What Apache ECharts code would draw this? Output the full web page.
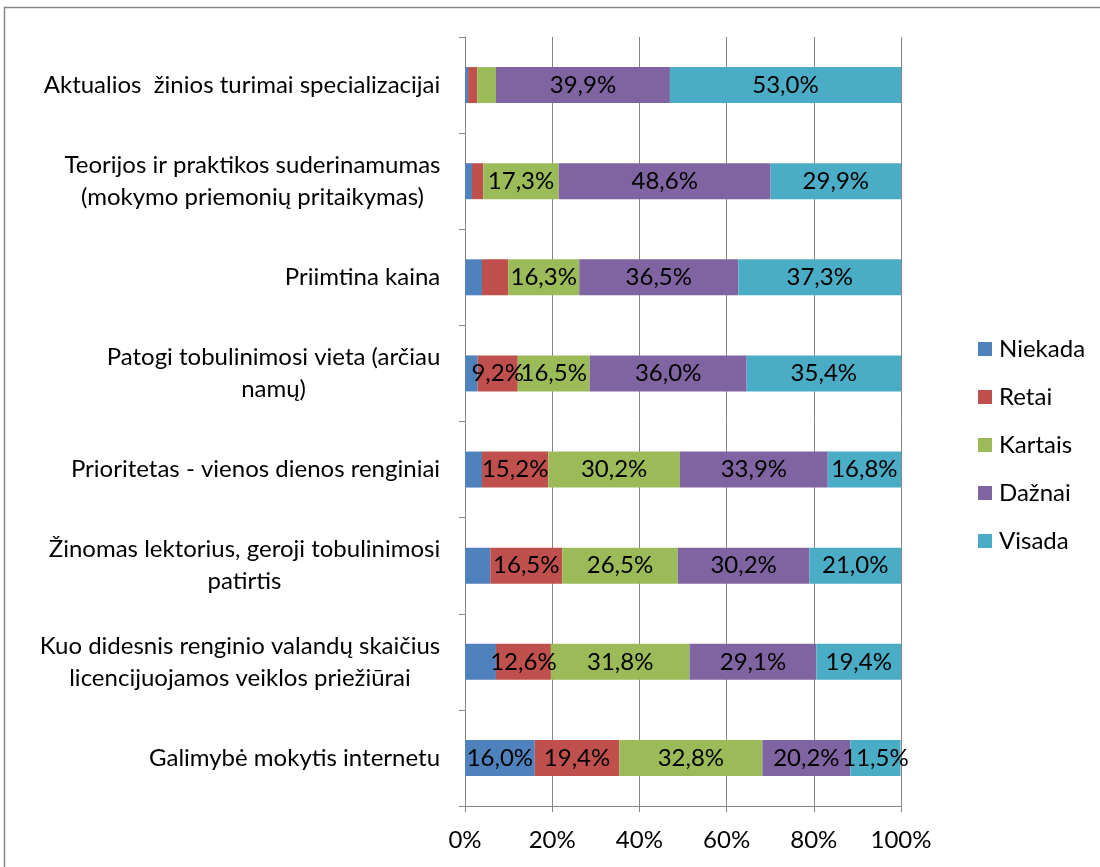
<!DOCTYPE html>
<html>
<head>
<meta charset="utf-8">
<script src="https://cdn.jsdelivr.net/npm/echarts@6/dist/echarts.min.js"></script>
<style>html,body{margin:0;padding:0;background:#fff;}#c{width:1100px;height:867px;}</style>
</head>
<body>
<div id="c"></div>
<script>
const categories = [
  'Aktualios  žinios turimai specializacijai',
  'Teorijos ir praktikos suderinamumas\n(mokymo priemonių pritaikymas)',
  'Priimtina kaina',
  'Patogi tobulinimosi vieta (arčiau\nnamų)',
  'Prioritetas - vienos dienos renginiai',
  'Žinomas lektorius, geroji tobulinimosi\npatirtis',
  'Kuo didesnis renginio valandų skaičius\nlicencijuojamos veiklos priežiūrai',
  'Galimybė mokytis internetu'
];
const seriesNames = ['Niekada', 'Retai', 'Kartais', 'Dažnai', 'Visada'];
const niekada = [0.7, 1.6, 3.9, 2.9, 3.9, 5.8, 7.1, 16.0];
const retai   = [2.1, 2.6, 6.0, 9.2, 15.2, 16.5, 12.6, 19.4];
const kartais = [4.3, 17.3, 16.3, 16.5, 30.2, 26.5, 31.8, 32.8];
const daznai  = [39.9, 48.6, 36.5, 36.0, 33.9, 30.2, 29.1, 20.2];
const visada  = [53.0, 29.9, 37.3, 35.4, 16.8, 21.0, 19.4, 11.5];
const xTicks = [0, 20, 40, 60, 80, 100];

const colors = ['#4F81BD', '#C0504D', '#9BBB59', '#8064A2', '#4BACC6'];
const FONT = 'Lato';
const FS = 24;

const cv = document.createElement('canvas').getContext('2d');
cv.font = FS + 'px ' + FONT;
const rich = {};
categories.forEach((c, i) => {
  const w = Math.max(...c.split('\n').map(l => cv.measureText(l).width));
  rich['l' + i] = { width: Math.ceil(w) + 1, align: 'center', fontSize: FS, fontFamily: FONT, color: '#000', lineHeight: 32 };
});

const allData = [niekada, retai, kartais, daznai, visada];
const fmt = v => v.toFixed(1).replace('.', ',') + '%';

const chart = echarts.init(document.getElementById('c'));
chart.setOption({
  animation: false,
  backgroundColor: '#fff',
  color: colors,
  graphic: [{
    type: 'rect', silent: true,
    shape: { x: 4.5, y: 7.5, width: 1200, height: 1000 },
    style: { fill: 'none', stroke: '#868686', lineWidth: 1.5 }
  }],
  grid: { left: 465, right: 199, top: 37, bottom: 61 },
  legend: {
    orient: 'vertical', left: 973, top: 332,
    itemWidth: 14, itemHeight: 14, itemGap: 24, icon: 'rect',
    textStyle: { fontFamily: FONT, fontSize: FS, color: '#000', lineHeight: 24, padding: [0, 0, 0, 2] },
    data: seriesNames
  },
  xAxis: {
    type: 'value', min: xTicks[0], max: xTicks[xTicks.length - 1], interval: 20,
    axisLine: { show: true, lineStyle: { color: '#868686', width: 1 } },
    axisTick: { show: true, length: 6, lineStyle: { color: '#868686' } },
    splitLine: { show: true, lineStyle: { color: '#868686', width: 1 } },
    axisLabel: { formatter: '{value}%', fontFamily: FONT, fontSize: FS, color: '#000', margin: 22 }
  },
  yAxis: {
    type: 'category', inverse: true, data: categories,
    axisLine: { show: true, lineStyle: { color: '#868686', width: 1 } },
    axisTick: { show: true, length: 6, lineStyle: { color: '#868686' } },
    axisLabel: {
      margin: 24, rich: rich,
      formatter: (v, i) => v.split('\n').map(l => '{l' + i + '|' + l + '}').join('\n')
    }
  },
  series: seriesNames.map((n, k) => ({
    name: n, type: 'bar', stack: 'total', barWidth: 36,
    data: allData[k],
    label: {
      show: true, position: 'inside', color: '#000', fontFamily: FONT, fontSize: FS,
      formatter: p => (p.value >= 9 ? fmt(p.value) : '')
    }
  }))
});
</script>
</body>
</html>
